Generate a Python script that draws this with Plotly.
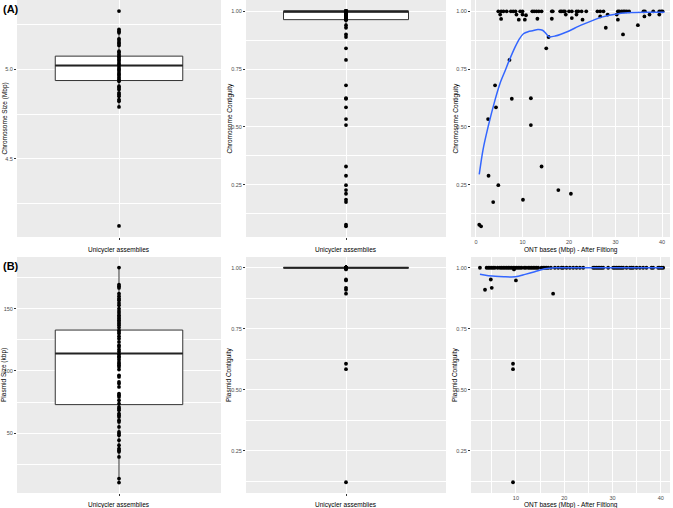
import plotly.graph_objects as go

# ---------------- data ----------------
# Panel A left: chromosome sizes (Mbp)
chrom_size = [5.328, 5.225, 5.215, 5.206, 5.172, 5.165, 5.154, 5.146, 5.135, 5.103,
              5.094, 5.084, 5.075, 5.066, 5.056, 5.047, 5.037, 5.028, 5.019, 5.009,
              5.000, 4.991, 4.981, 4.972, 4.963, 4.953, 4.944, 4.934, 4.906, 4.897,
              4.888, 4.869, 4.860, 4.850, 4.831, 4.822, 4.790, 4.122]
chrom_size_box = dict(q1=4.938, median=5.022, q3=5.075, lower=4.790, upper=5.225)

# Panel A middle/right: chromosome contiguity vs ONT bases (Mbp)
chrom_ont = [4.8, 5.4, 5.9, 6.6, 7.5, 8.0, 8.5, 9.5, 10.0, 12.1, 12.5, 13.0, 13.5, 14.1,
             16.3, 16.5, 18.1, 18.4, 18.8, 19.1, 20.0, 20.6, 21.6, 22.0, 22.7, 23.7,
             26.1, 26.7, 27.4, 30.5, 30.8, 31.3, 31.7, 32.0, 32.4, 32.9, 36.0, 36.3,
             38.1, 39.4, 39.8, 40.1,
             5.2, 5.4, 8.7, 9.2, 10.0, 10.5, 10.75, 13.2, 16.3, 19.3, 20.6, 21.6, 22.9,
             26.7, 28.3, 27.9, 30.5, 30.25, 31.6, 34.8, 36.2, 37.3, 39.4,
             15.6, 15.1, 7.2, 4.1, 4.3, 7.7, 11.8, 11.8, 2.6, 14.1, 2.7, 4.8, 17.7, 20.4,
             3.7, 10.1, 0.7, 1.1]
chrom_contig = [1.0] * 42 + \
               [0.986, 0.967, 0.986, 0.964, 0.986, 0.964, 0.983, 0.968, 0.968, 0.986, 0.971,
                0.986, 0.964, 0.978, 0.986, 0.929, 0.964, 0.986, 0.900, 0.940, 0.978,
                0.986, 0.986,
                0.889, 0.840, 0.790, 0.680, 0.585, 0.622, 0.624, 0.508, 0.534, 0.329,
                0.289, 0.248, 0.227, 0.211, 0.175, 0.185, 0.077, 0.070]
chrom_contig_box = dict(q1=0.964, median=1.0, q3=1.0, lower=0.929, upper=1.0)
chrom_smooth_x = [0.7, 1.5, 2.6, 4.1, 5.2, 6.2, 7.2, 8.4, 9.3, 10.2, 11.2, 12.2, 13.3,
                  14.3, 15.0, 15.7, 17.0, 20.0, 22.0, 25.0, 27.0, 30.6, 33.5, 37.0, 40.5]
chrom_smooth_y = [0.295, 0.400, 0.500, 0.617, 0.690, 0.740, 0.790, 0.845, 0.880, 0.903,
                  0.912, 0.916, 0.921, 0.918, 0.905, 0.890, 0.893, 0.915, 0.935, 0.960,
                  0.975, 0.990, 0.995, 0.996, 0.996]

# Panel B left: plasmid sizes (kbp)
plasmid_size = [182.9, 169.2, 167.9, 166.6, 162.0, 159.9, 158.0, 156.7, 154.5, 152.7,
                150.0, 148.1, 146.5, 144.7, 143.3, 142.0, 140.6, 139.3, 138.0, 136.6,
                134.8, 132.6, 131.3, 130.0, 127.8, 125.9, 123.3, 120.6, 119.3, 117.1,
                115.3, 113.4, 111.8, 110.7, 109.1, 107.2, 105.9, 104.6, 103.2, 101.1,
                96.5, 95.2, 91.2, 89.9, 87.2, 81.8, 80.5, 79.2, 76.5, 73.8, 71.1, 69.8,
                68.5, 65.8, 64.5, 63.1, 60.5, 59.1, 55.1, 51.1, 49.8, 48.4, 44.4, 40.4,
                37.7, 36.4, 35.1, 31.0, 13.7, 10.5]
plasmid_size_box = dict(q1=73.0, median=114.0, q3=132.8, lower=10.5, upper=182.9)

# Panel B middle/right: plasmid contiguity vs ONT bases (Mbp)
plasmid_ont = [2.55, 3.93, 4.28, 4.62, 4.97, 5.31, 5.66, 6.21, 6.69, 7.03, 7.38, 7.72,
               8.07, 8.41, 8.76, 9.10, 9.45, 9.79, 10.14, 10.48, 10.83, 11.17, 11.72,
               12.07, 12.55, 12.90, 13.24, 13.59, 13.93, 14.28, 14.62, 15.31, 15.66,
               16.0, 16.34, 16.69, 17.24, 18.07, 18.76, 19.45, 19.79, 20.48, 21.17,
               21.86, 22.55, 23.24, 23.93, 26.0, 26.34, 26.69, 27.03, 27.38, 27.72,
               28.07, 29.1, 30.14, 30.48, 30.83, 31.17, 31.52, 31.86, 32.21, 32.9,
               33.59, 33.93, 34.28, 34.97, 35.66, 36.34, 37.03, 38.07, 38.41, 39.45,
               39.79, 40.14, 40.48,
               3.6, 5.0, 4.8, 10.0, 9.6, 17.7, 9.4, 9.4, 9.4]
plasmid_contig = [1.0] * 76 + [0.910, 0.918, 0.952, 0.948, 0.993, 0.894, 0.607, 0.585, 0.122]
plasmid_contig_box = dict(q1=1.0, median=1.0, q3=1.0, lower=1.0, upper=1.0)
plasmid_smooth_x = [2.55, 4.0, 5.7, 7.5, 9.1, 10.5, 11.9, 13.9, 16.0, 18.1, 20.0, 25.0,
                    30.0, 35.0, 40.5]
plasmid_smooth_y = [0.973, 0.968, 0.965, 0.963, 0.962, 0.965, 0.973, 0.984, 0.996, 1.0,
                    1.0, 1.0, 1.0, 1.0, 1.0]

box_label = "Unicycler assemblies"
ont_label = "ONT bases (Mbp) - After Filtlong"

# ---------------- figure ----------------
W, H = 673, 508
FONT = "Liberation Sans, Arial, sans-serif"
GRID = "white"
TICKC = "#333333"
TICKFONT = dict(family=FONT, size=5.5, color="#4D4D4D")
TITLEFONT = dict(family=FONT, size=6.5, color="black")

cols = [(17, 221), (246, 446), (471, 670)]
rows = [(0, 237), (257, 493)]
xtitle_y = [249.5, 505.3]        # pixel centre of x-axis titles per row
ytitle_x = [4, 229, 455]         # pixel centre of y-axis titles per column


def xdom(c):
    return [cols[c][0] / W, cols[c][1] / W]


def ydom(r):
    return [1 - rows[r][1] / H, 1 - rows[r][0] / H]


fig = go.Figure()
layout = {}
annotations = []

panels = [
    dict(r=0, c=0, kind="box", y=chrom_size, box=chrom_size_box,
         yrange=[4.06, 5.39], yt=[4.5, 5.0], ytt=["4.5", "5.0"], ym=[4.25, 4.75, 5.25],
         ytitle="Chromosome Size (Mbp)"),
    dict(r=0, c=1, kind="box", y=chrom_contig, box=chrom_contig_box,
         yrange=[0.024, 1.049], yt=[0.25, 0.5, 0.75, 1.0],
         ytt=["0.25", "0.50", "0.75", "1.00"], ym=[0.125, 0.375, 0.625, 0.875],
         ytitle="Chromosome Contiguity"),
    dict(r=0, c=2, kind="scatter", x=chrom_ont, y=chrom_contig,
         sx=chrom_smooth_x, sy=chrom_smooth_y, xrange=[-1.07, 41.7],
         xt=[0, 10, 20, 30, 40], xm=[5, 15, 25, 35],
         yrange=[0.024, 1.049], yt=[0.25, 0.5, 0.75, 1.0],
         ytt=["0.25", "0.50", "0.75", "1.00"], ym=[0.125, 0.375, 0.625, 0.875],
         ytitle="Chromosome Contiguity"),
    dict(r=1, c=0, kind="box", y=plasmid_size, box=plasmid_size_box,
         yrange=[2.1, 191.4], yt=[50, 100, 150], ytt=["50", "100", "150"],
         ym=[25, 75, 125, 175], ytitle="Plasmid Size (kbp)"),
    dict(r=1, c=1, kind="box", y=plasmid_contig, box=plasmid_contig_box,
         yrange=[0.078, 1.044], yt=[0.25, 0.5, 0.75, 1.0],
         ytt=["0.25", "0.50", "0.75", "1.00"], ym=[0.125, 0.375, 0.625, 0.875],
         ytitle="Plasmid Contiguity"),
    dict(r=1, c=2, kind="scatter", x=plasmid_ont, y=plasmid_contig,
         sx=plasmid_smooth_x, sy=plasmid_smooth_y, xrange=[0.7, 41.9],
         xt=[10, 20, 30, 40], xm=[5, 15, 25, 35],
         yrange=[0.078, 1.044], yt=[0.25, 0.5, 0.75, 1.0],
         ytt=["0.25", "0.50", "0.75", "1.00"], ym=[0.125, 0.375, 0.625, 0.875],
         ytitle="Plasmid Contiguity"),
]

BOXW = 0.75
MS = 3.8
for i, p in enumerate(panels, start=1):
    xa = "x" if i == 1 else f"x{i}"
    ya = "y" if i == 1 else f"y{i}"
    xkey = "xaxis" if i == 1 else f"xaxis{i}"
    ykey = "yaxis" if i == 1 else f"yaxis{i}"
    if p["kind"] == "box":
        b = p["box"]
        fig.add_trace(go.Box(
            x=[1], q1=[b["q1"]], median=[b["median"]], q3=[b["q3"]],
            lowerfence=[b["lower"]], upperfence=[b["upper"]],
            width=BOXW, fillcolor="white", boxpoints=False,
            line=dict(color="#333333", width=1), whiskerwidth=0,
            xaxis=xa, yaxis=ya, showlegend=False, hoverinfo="skip"))
        fig.add_trace(go.Scatter(
            x=[1 - BOXW / 2, 1 + BOXW / 2], y=[b["median"]] * 2, mode="lines",
            line=dict(color="#222222", width=2), xaxis=xa, yaxis=ya,
            showlegend=False, hoverinfo="skip"))
        fig.add_trace(go.Scatter(
            x=[1] * len(p["y"]), y=p["y"], mode="markers",
            marker=dict(color="black", size=MS), xaxis=xa, yaxis=ya,
            showlegend=False))
        xaxis = dict(range=[0.4, 1.6], tickmode="array", tickvals=[1], ticktext=[""],
                     ticks="outside", ticklen=2)
        xt_text = box_label
    else:
        fig.add_trace(go.Scatter(
            x=p["x"], y=p["y"], mode="markers",
            marker=dict(color="black", size=MS), xaxis=xa, yaxis=ya,
            showlegend=False))
        fig.add_trace(go.Scatter(
            x=p["sx"], y=p["sy"], mode="lines",
            line=dict(color="#3366FF", width=1.5, shape="spline", smoothing=0.8),
            xaxis=xa, yaxis=ya, showlegend=False))
        xaxis = dict(range=p["xrange"], tickmode="array", tickvals=p["xt"],
                     ticktext=[str(v) for v in p["xt"]], ticks="", ticklen=0,
                     minor=dict(tickmode="array", tickvals=p["xm"], showgrid=True,
                                gridcolor=GRID, gridwidth=0.5))
        xt_text = ont_label
    xaxis.update(domain=xdom(p["c"]), anchor=ya, showgrid=True, gridcolor=GRID,
                 gridwidth=1, zeroline=False, showline=False,
                 tickwidth=0.7, tickcolor=TICKC, tickfont=TICKFONT,
                 fixedrange=True, automargin=False)
    yaxis = dict(domain=ydom(p["r"]), anchor=xa, range=p["yrange"], tickmode="array",
                 tickvals=p["yt"], ticktext=p["ytt"],
                 minor=dict(tickmode="array", tickvals=p["ym"], showgrid=True,
                            gridcolor=GRID, gridwidth=0.5),
                 showgrid=True, gridcolor=GRID, gridwidth=1, zeroline=False,
                 showline=False, ticks="outside", ticklen=2, tickwidth=0.7,
                 tickcolor=TICKC, tickfont=TICKFONT,
                 fixedrange=True, automargin=False)
    layout[xkey] = xaxis
    layout[ykey] = yaxis
    x0, x1 = cols[p["c"]]
    y0, y1 = rows[p["r"]]
    annotations.append(dict(
        text=xt_text, x=(x0 + x1) / 2 / W, y=1 - xtitle_y[p["r"]] / H,
        xref="paper", yref="paper", xanchor="center", yanchor="middle",
        showarrow=False, font=TITLEFONT))
    annotations.append(dict(
        text=p["ytitle"], x=ytitle_x[p["c"]] / W, y=1 - (y0 + y1) / 2 / H,
        xref="paper", yref="paper", xanchor="center", yanchor="middle",
        textangle=-90, showarrow=False, font=TITLEFONT))

annotations += [
    dict(text="<b>(A)</b>", x=1 / W, y=1 - 1 / H, xref="paper", yref="paper",
         xanchor="left", yanchor="top", showarrow=False,
         font=dict(family=FONT, size=11, color="black")),
    dict(text="<b>(B)</b>", x=1 / W, y=1 - 258 / H, xref="paper", yref="paper",
         xanchor="left", yanchor="top", showarrow=False,
         font=dict(family=FONT, size=11, color="black")),
]

fig.update_layout(template="none")
fig.update_layout(**layout)
fig.update_layout(
    width=W, height=H, margin=dict(l=0, r=0, t=0, b=0, autoexpand=False),
    paper_bgcolor="white", plot_bgcolor="#EBEBEB",
    font=dict(family=FONT), showlegend=False, annotations=annotations)

fig.write_html(
    "out.html",
    config={"displayModeBar": False},
    post_script="document.body.style.margin='0';document.body.style.overflow='hidden';",
)
